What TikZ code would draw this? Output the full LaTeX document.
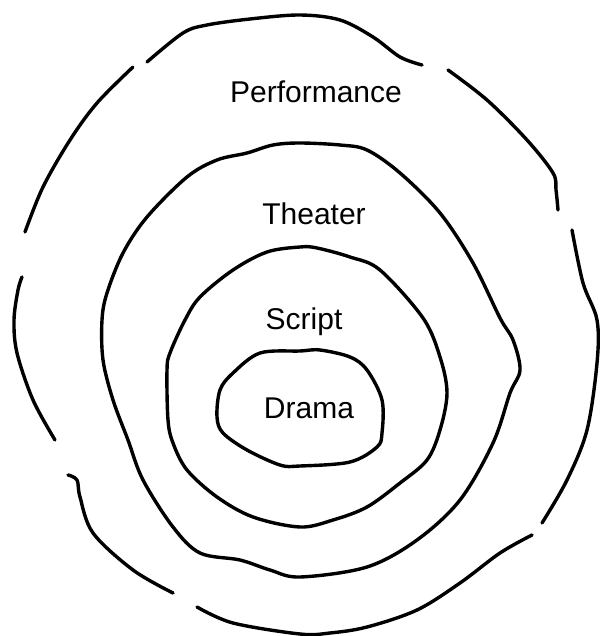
\documentclass[tikz,border=0pt]{standalone}
\usepackage{fontspec}
\setmainfont{Liberation Sans}
\definecolor{ink}{HTML}{000000}
\definecolor{textmain}{HTML}{000000}

\begin{document}
\begin{tikzpicture}[
    x=0.5pt, y=-0.5pt,
    ring/.style={draw=ink, line width=1.7pt, line cap=round, line join=round},
    ringtext/.style={text=textmain, font=\fontsize{15}{18}\selectfont, anchor=base, inner sep=0pt}
  ]
    \useasboundingbox (0,0) rectangle (599,636);

    % outer ring, drawn in broken strokes
    \draw[ring] plot[smooth, tension=0.55] coordinates {(25,232) (43,187) (70,140) (97,103) (133,67)};
    \draw[ring] plot[smooth, tension=0.55] coordinates {(147,62) (183,33) (207,25) (250,19) (300,15) (340,20) (373,37) (400,57) (422,65)};
    \draw[ring] plot[smooth, tension=0.55] coordinates {(448,70) (487,100) (527,140) (553,173) (556,190) (558,210)};
    \draw[ring] plot[smooth, tension=0.55] coordinates {(572,230) (583,283) (597,320) (597,363) (587,430) (567,480) (542,523)};
    \draw[ring] plot[smooth, tension=0.55] coordinates {(532,535) (500,553) (460,583) (417,610) (367,627) (330,633) (300,634) (233,623) (197,607)};
    \draw[ring] plot[smooth, tension=0.55] coordinates {(173,593) (133,570) (93,533) (80,497) (77,480) (68,475)};
    \draw[ring] plot[smooth, tension=0.55] coordinates {(55,440) (33,400) (17,353) (14,320) (18,290) (22,277)};

    \draw[ring] plot[smooth cycle, tension=0.55] coordinates {(300,143) (273,145) (247,153) (217,160) (187,177) (147,217) (123,253) (107,293) (102,320) (103,360) (113,400) (128,440) (143,480) (173,527) (200,553) (240,560) (270,570) (300,577) (367,567) (417,540) (460,500) (493,443) (510,393) (520,370) (513,340) (500,318) (473,263) (440,213) (400,173) (367,150) (340,145)};

    \draw[ring] plot[smooth cycle, tension=0.55] coordinates {(300,247) (267,252) (233,270) (200,297) (185,320) (170,353) (167,370) (168,420) (173,443) (187,470) (217,497) (253,517) (300,527) (333,520) (367,507) (400,483) (427,460) (440,430) (447,393) (440,357) (423,318) (380,270) (350,257) (317,248)};

    \draw[ring] plot[smooth cycle, tension=0.55] coordinates {(300,351) (260,353) (233,373) (220,390) (217,417) (223,433) (247,450) (280,465) (300,466) (350,462) (377,447) (382,433) (382,400) (367,370) (350,357) (320,350)};

    \node[ringtext] (perf) at (316,103) {Performance};
    \node[ringtext] (theater) at (314,225) {Theater};
    \node[ringtext] (script) at (304,329) {Script};
    \node[ringtext] (drama) at (309,418) {Drama};
\end{tikzpicture}
\end{document}
